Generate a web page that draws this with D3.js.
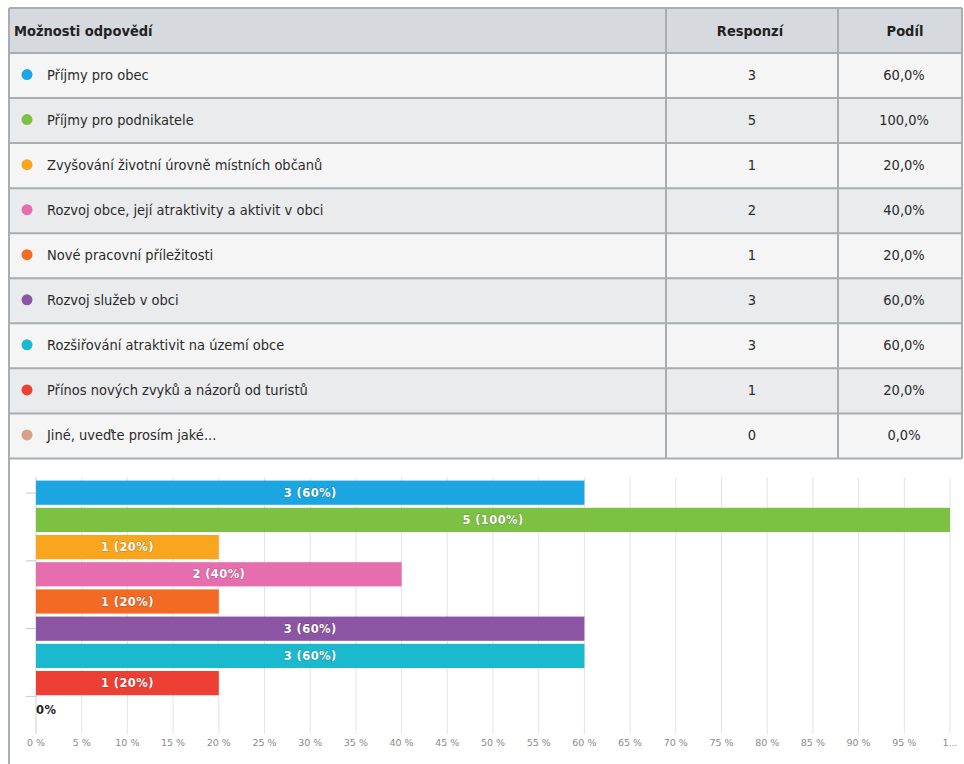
<!DOCTYPE html>
<html>
<head>
<meta charset="utf-8">
<script src="https://cdn.jsdelivr.net/npm/d3@7"></script>
<style>
  body { margin: 0; background: #fff; }
  svg { display: block; }
  .cell { font-family: "DejaVu Sans Condensed", "Liberation Sans Narrow", sans-serif; font-size: 14.5px; fill: #2b2b2b; }
  .head { font-weight: bold; fill: #222; }
  .barlab { font-family: "DejaVu Sans", sans-serif; font-weight: bold; font-size: 11.5px; letter-spacing: 0.4px; fill: #fff; }
  .tick text { font-family: "DejaVu Sans", sans-serif; font-size: 9.5px; fill: #8a8a8a; }
</style>
</head>
<body>
<svg width="964" height="764"></svg>
<script>
// answers, counts, shares (as shown in the table)
var categories = [
    "Příjmy pro obec",
    "Příjmy pro podnikatele",
    "Zvyšování životní úrovně místních občanů",
    "Rozvoj obce, její atraktivity a aktivit v obci",
    "Nové pracovní příležitosti",
    "Rozvoj služeb v obci",
    "Rozšiřování atraktivit na území obce",
    "Přínos nových zvyků a názorů od turistů",
    "Jiné, uveďte prosím jaké..."
];
var responses = [3, 5, 1, 2, 1, 3, 3, 1, 0];
var shares = [60, 100, 20, 40, 20, 60, 60, 20, 0];
var colors = ["#1ba6e1", "#7dc143", "#f9a61e", "#e66eae", "#f26a23", "#8c55a3", "#1bb9cd", "#ee3f34", "#d3a187"];
var xTicks = d3.range(0, 101, 5);
var headers = ["Možnosti odpovědí", "Responzí", "Podíl"];

var svg = d3.select("svg");

// ---- table ----
var tLeft = 9, tRight = 962, tTop = 8, headH = 45, rowH = 45.05;
var col1 = 666, col2 = 838;
var border = "#a8adb1";

var table = svg.append("g");

table.append("rect")
    .attr("x", tLeft).attr("y", tTop)
    .attr("width", tRight - tLeft).attr("height", headH)
    .attr("fill", "#d6dade");

var rows = table.selectAll("g.row")
    .data(categories)
    .enter().append("g")
    .attr("class", "row")
    .attr("transform", function(d, i){ return "translate(0," + (tTop + headH + i * rowH) + ")"; });

rows.append("rect")
    .attr("x", tLeft).attr("width", tRight - tLeft).attr("height", rowH)
    .attr("fill", function(d, i){ return i % 2 ? "#e9ebed" : "#f5f5f5"; });

rows.append("circle")
    .attr("cx", 27).attr("cy", rowH / 2 - 1).attr("r", 5.5)
    .attr("fill", function(d, i){ return colors[i]; });

rows.append("text")
    .attr("class", "cell")
    .attr("x", 47).attr("y", rowH / 2 + 4)
    .text(function(d){ return d; });

rows.append("text")
    .attr("class", "cell")
    .attr("x", 752).attr("y", rowH / 2 + 4)
    .attr("text-anchor", "middle")
    .text(function(d, i){ return responses[i]; });

rows.append("text")
    .attr("class", "cell")
    .attr("x", 904).attr("y", rowH / 2 + 4)
    .attr("text-anchor", "middle")
    .text(function(d, i){ return d3.format(".1f")(shares[i]).replace(".", ",") + "%"; });

table.selectAll("text.hd")
    .data(headers)
    .enter().append("text")
    .attr("class", "cell head hd")
    .attr("x", function(d, i){ return i == 0 ? 14 : (i == 1 ? 750 : 905); })
    .attr("y", tTop + headH / 2 + 5)
    .attr("text-anchor", function(d, i){ return i == 0 ? "start" : "middle"; })
    .text(function(d){ return d; });

// row lines
var tBottom = tTop + headH + categories.length * rowH;
table.selectAll("line.hl")
    .data(d3.range(categories.length + 2))
    .enter().append("line")
    .attr("x1", tLeft).attr("x2", tRight)
    .attr("y1", function(i){ return i == 0 ? tTop : tTop + headH + (i - 1) * rowH; })
    .attr("y2", function(i){ return i == 0 ? tTop : tTop + headH + (i - 1) * rowH; })
    .attr("stroke", border).attr("stroke-width", 2);

[col1, col2, tRight].forEach(function(x){
    table.append("line")
        .attr("x1", x).attr("x2", x).attr("y1", tTop).attr("y2", tBottom)
        .attr("stroke", border).attr("stroke-width", 2);
});
table.append("line")
    .attr("x1", tLeft).attr("x2", tLeft).attr("y1", tTop).attr("y2", 764)
    .attr("stroke", border).attr("stroke-width", 2);

// ---- bar chart ----
var x = d3.scaleLinear().domain([0, 100]).range([36, 950]);
var y = d3.scaleBand().domain(categories).range([479.5, 723.5]).paddingInner(0.11).paddingOuter(0.04);

var grid = svg.append("g")
    .attr("class", "tick")
    .selectAll("g")
    .data(xTicks)
    .enter().append("g");

grid.append("line")
    .attr("x1", function(d){ return x(d); }).attr("x2", function(d){ return x(d); })
    .attr("y1", 477).attr("y2", 734)
    .attr("stroke", function(d){ return d == 0 ? "#cfcfcf" : "#e3e3e3"; })
    .attr("stroke-width", 1);

grid.append("text")
    .attr("x", function(d){ return x(d); })
    .attr("y", 746)
    .attr("text-anchor", "middle")
    .text(function(d){ return d == 100 ? "1..." : d + " %"; });

// small left ticks
var yt = d3.scaleLinear().domain([0, categories.length]).range([y.range()[0], y.range()[1]]);
svg.append("g").selectAll("line")
    .data([0.5, 3, 5.5, 8])
    .enter().append("line")
    .attr("x1", 26).attr("x2", 36)
    .attr("y1", function(d){ return yt(d); }).attr("y2", function(d){ return yt(d); })
    .attr("stroke", "#c8c8c8");

var bars = svg.append("g").selectAll("g")
    .data(categories)
    .enter().append("g");

bars.append("rect")
    .attr("x", x(0))
    .attr("y", function(d){ return y(d); })
    .attr("width", function(d, i){ return x(shares[i]) - x(0); })
    .attr("height", y.bandwidth())
    .attr("fill", function(d, i){ return colors[i]; });

bars.append("text")
    .attr("class", "barlab")
    .attr("x", function(d, i){ return shares[i] > 0 ? (x(0) + x(shares[i])) / 2 : x(0); })
    .attr("y", function(d){ return y(d) + y.bandwidth() / 2 + 4; })
    .attr("text-anchor", function(d, i){ return shares[i] > 0 ? "middle" : "start"; })
    .style("fill", function(d, i){ return shares[i] > 0 ? "#fff" : "#222"; })
    .style("paint-order", "stroke")
    .style("stroke", function(d, i){ return shares[i] > 0 ? "rgba(0,0,0,0.25)" : "none"; })
    .style("stroke-width", 1)
    .text(function(d, i){ return shares[i] > 0 ? responses[i] + " (" + shares[i] + "%)" : "0%"; });
</script>
</body>
</html>
